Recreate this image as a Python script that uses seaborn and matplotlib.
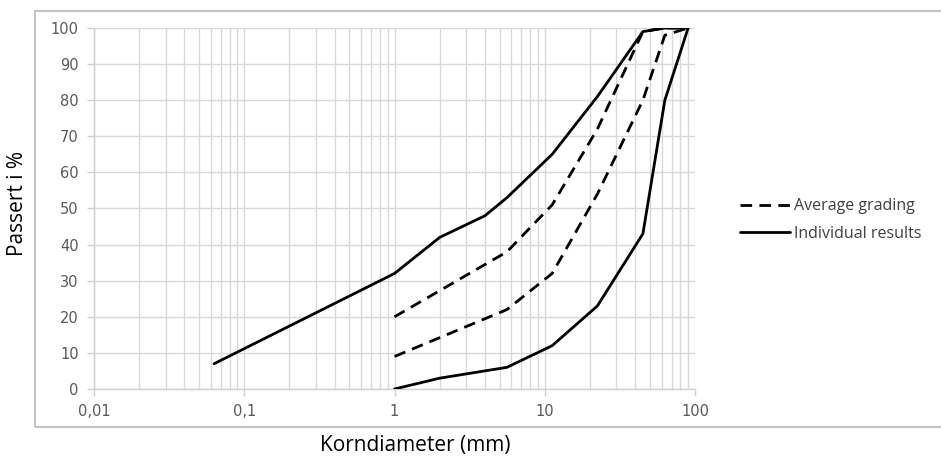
import pandas as pd
import seaborn as sns
import matplotlib
matplotlib.use("Agg")
import matplotlib.pyplot as plt
from matplotlib.lines import Line2D
from matplotlib.patches import Rectangle
from matplotlib.ticker import LogLocator, NullFormatter, FixedLocator, FixedFormatter

# sieve size (mm) and passing (%)
upper_size = [0.063, 1, 2, 4, 5.6, 11.2, 22.4, 45, 63, 90]
upper_pass = [7, 32, 42, 48, 53, 65, 81, 99, 100, 100]
lower_size = [1, 2, 5.6, 11.2, 22.4, 45, 63, 90]
lower_pass = [0, 3, 6, 12, 23, 43, 80, 100]
avg_hi_size = [1, 5.6, 11.2, 22.4, 45, 63, 90]
avg_hi_pass = [20, 38, 51, 72, 99, 100, 100]
avg_lo_size = [1, 5.6, 11.2, 22.4, 45, 63, 90]
avg_lo_pass = [9, 22, 32, 54, 80, 98, 100]

x_ticks = [0.01, 0.1, 1, 10, 100]
x_tick_labels = ["0,01", "0,1", "1", "10", "100"]
y_ticks = list(range(0, 101, 10))

sns.set_theme(style="white")
plt.rcParams['font.family'] = ['Open Sans', 'DejaVu Sans']

fig = plt.figure(figsize=(9.41, 4.61), dpi=100)
ax = fig.add_axes([94 / 941, 1 - 389 / 461, (695 - 94) / 941, (389 - 28) / 461])

dash = (0, (4.2, 2.6))
curves = [
    (upper_size, upper_pass, "-"),
    (lower_size, lower_pass, "-"),
    (avg_hi_size, avg_hi_pass, dash),
    (avg_lo_size, avg_lo_pass, dash),
]
for xs, ys, ls in curves:
    df = pd.DataFrame({"size": xs, "passing": ys})
    sns.lineplot(data=df, x="size", y="passing", ax=ax, color="black",
                 linewidth=2.0, linestyle=ls, zorder=3)

ax.set_xscale("log")
ax.set_xlim(0.01, 100)
ax.set_ylim(0, 100)
ax.xaxis.set_major_locator(FixedLocator(x_ticks))
ax.xaxis.set_major_formatter(FixedFormatter(x_tick_labels))
ax.xaxis.set_minor_locator(LogLocator(base=10, subs=range(2, 10)))
ax.xaxis.set_minor_formatter(NullFormatter())
ax.set_yticks(y_ticks)

ax.grid(True, which="both", axis="x", color="#d9d9d9", linewidth=1.0)
ax.grid(True, which="major", axis="y", color="#d9d9d9", linewidth=1.0)
ax.set_axisbelow(True)

for side in ["top", "right"]:
    ax.spines[side].set_visible(False)
for side in ["left", "bottom"]:
    ax.spines[side].set_color("#d0d0d0")
    ax.spines[side].set_linewidth(1.0)

ax.tick_params(axis="both", which="major", direction="out", length=5, width=1,
               color="#d0d0d0", labelcolor="#595959", labelsize=10.5, pad=6,
               left=True, bottom=True)
ax.tick_params(axis="x", which="minor", length=0)
for lab in ax.get_xticklabels() + ax.get_yticklabels():
    lab.set_family("DejaVu Sans")

ax.set_xlabel("")
ax.set_ylabel("")
fig.text(415 / 941, 1 - 445 / 461, "Korndiameter (mm)", ha="center", va="center",
         fontsize=15, color="black")
fig.text(18 / 941, 1 - 203 / 461, "Passert i %", ha="center", va="center",
         rotation=90, fontsize=15, color="black")

handles = [Line2D([], [], color="black", linewidth=2.0, linestyle=dash),
           Line2D([], [], color="black", linewidth=2.0, linestyle="-")]
fig.legend(handles, ["Average grading", "Individual results"],
           loc="center left", bbox_to_anchor=(740 / 941, 1 - 220 / 461),
           frameon=False, fontsize=11.5, handlelength=3.1, handletextpad=0.3,
           borderaxespad=0, borderpad=0, labelspacing=0.7, labelcolor="#404040")

fig.patches.append(Rectangle((35 / 941, 1 - 427 / 461), 1.0, (427 - 11) / 461,
                             transform=fig.transFigure, fill=False,
                             edgecolor="#c4c4c4", linewidth=1.5))

fig.savefig("out.png", dpi=100, facecolor="white")
